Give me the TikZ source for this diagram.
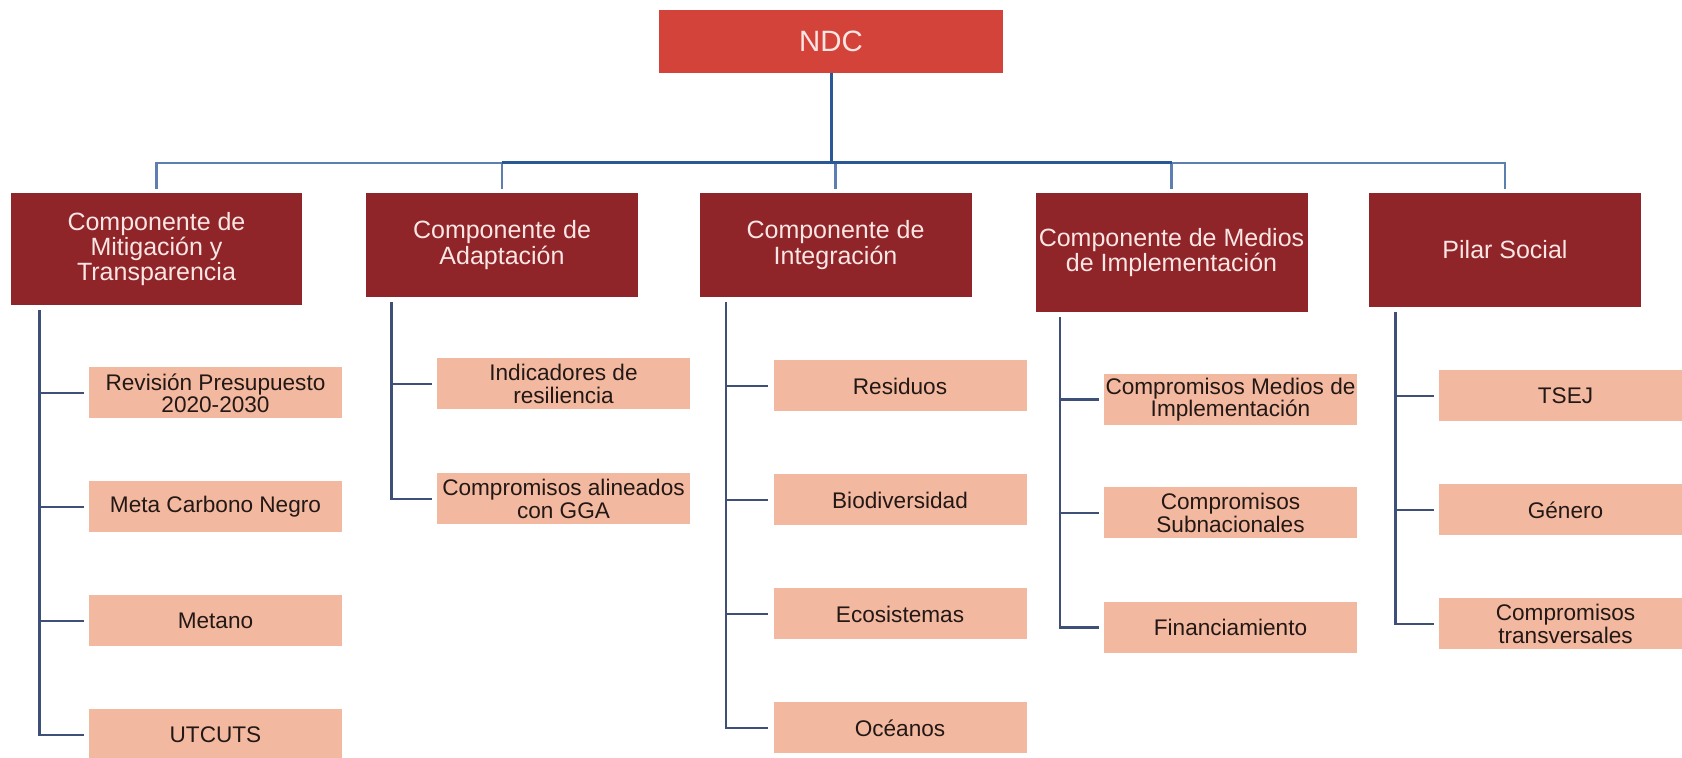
\documentclass[tikz,border=0pt]{standalone}
\usepackage{fontspec}
\setmainfont{Liberation Sans}
\usepackage{tikz}

\definecolor{rojondc}{HTML}{D4433A}
\definecolor{granate}{HTML}{8F2429}
\definecolor{salmon}{HTML}{F3B9A0}
\definecolor{rosado}{HTML}{FBE6E4}
\definecolor{tinta}{HTML}{231815}
\definecolor{azulosc}{HTML}{2A5896}
\definecolor{azulcla}{HTML}{5D7FB0}
\definecolor{pizarra}{HTML}{3E5078}

\begin{document}
\begin{tikzpicture}[x=0.5pt,y=-0.5pt,
  ndcbox/.style={fill=rojondc,text=rosado,minimum width=172pt,minimum height=31.5pt,font=\fontsize{14.7}{15}\selectfont},
  comp/.style={fill=granate,text=rosado,align=center,inner sep=1pt,minimum width=136pt,font=\fontsize{12.5}{12.6}\selectfont},
  hijo/.style={fill=salmon,text=tinta,align=center,inner sep=0.5pt,minimum width=126.5pt,minimum height=25.5pt,font=\fontsize{11.3}{11.2}\selectfont},
  claro/.style={draw=azulcla,line width=1.4pt,shorten >=2pt},
  oscuro/.style={draw=azulosc,line width=1.5pt},
  rama/.style={draw=pizarra,line width=1.2pt,shorten <=2.5pt,shorten >=2.5pt}]
\useasboundingbox (0,0) rectangle (1682,758);

\node [ndcbox] (ndc) at (831,41.5) {NDC};
\coordinate (bus) at (831,163);

\node [comp,minimum width=145.5pt,minimum height=56pt] (mitig) at (156.5,249) {Componente de\\Mitigación y\\Transparencia};
\node [comp,minimum height=52pt] (adapt) at (502,245) {Componente de\\Adaptación};
\node [comp,minimum height=52pt] (integ) at (835.5,245) {Componente de\\Integración};
\node [comp,minimum height=59.5pt] (medios) at (1171.5,252.5) {Componente de Medios\\de Implementación};
\node [comp,minimum height=57pt] (pilar) at (1505,250) {Pilar Social};

\node [hijo] (rev) at (215.5,393) {Revisión Presupuesto\\2020-2030};
\node [hijo] (carbono) at (215.5,507) {Meta Carbono Negro};
\node [hijo] (metano) at (215.5,621) {Metano};
\node [hijo] (utcuts) at (215.5,735) {UTCUTS};

\node [hijo] (indic) at (563.5,384) {Indicadores de\\resiliencia};
\node [hijo] (gga) at (563.5,499) {Compromisos alineados\\con GGA};

\node [hijo] (resid) at (900,386) {Residuos};
\node [hijo] (biodiv) at (900,500) {Biodiversidad};
\node [hijo] (ecosis) at (900,614) {Ecosistemas};
\node [hijo] (oceanos) at (900,728) {Océanos};

\node [hijo] (cmi) at (1230.5,399.5) {Compromisos Medios de\\Implementación};
\node [hijo] (subnac) at (1230.5,513) {Compromisos\\Subnacionales};
\node [hijo] (financ) at (1230.5,627.5) {Financiamiento};

\node [hijo] (tsej) at (1565.5,396) {TSEJ};
\node [hijo] (genero) at (1565.5,510) {Género};
\node [hijo] (transv) at (1565.5,624) {Compromisos\\transversales};

\foreach \c in {mitig,adapt,integ,medios,pilar}
  \draw [claro] (bus) -| (\c.north);
\draw [oscuro] (ndc.south) -- (bus);
\draw [oscuro] (adapt.north |- bus) -- (medios.north |- bus);

\foreach \h in {rev,carbono,metano,utcuts}
  \draw [rama] ([xshift=14.5pt]mitig.south west) |- (\h.west);
\foreach \h in {indic,gga}
  \draw [rama] ([xshift=13pt]adapt.south west) |- (\h.west);
\foreach \h in {resid,biodiv,ecosis,oceanos}
  \draw [rama] ([xshift=13.5pt]integ.south west) |- (\h.west);
\foreach \h in {cmi,subnac,financ}
  \draw [rama] ([xshift=12.5pt]medios.south west) |- (\h.west);
\foreach \h in {tsej,genero,transv}
  \draw [rama] ([xshift=13.5pt]pilar.south west) |- (\h.west);
\end{tikzpicture}
\end{document}
